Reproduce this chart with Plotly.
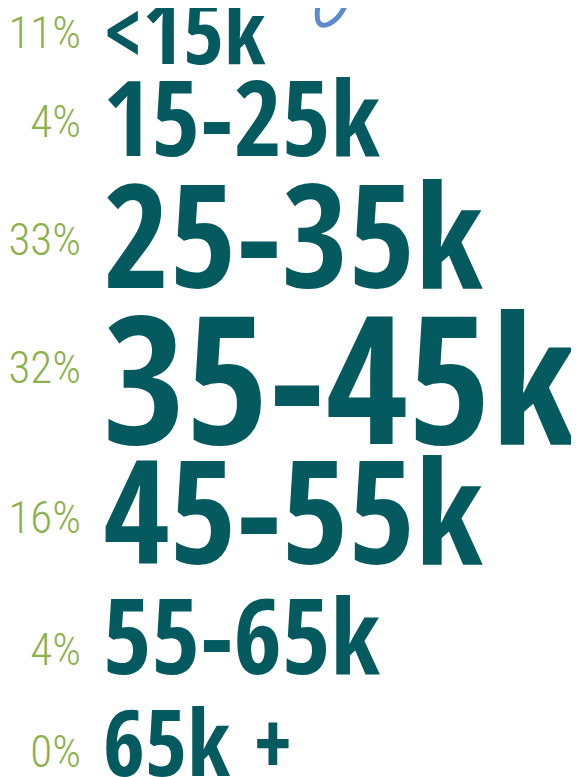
import plotly.graph_objects as go

# income brackets and share of respondents
brackets = ['<15k', '15-25k', '25-35k', '35-45k', '45-55k', '55-65k', '65k +']
shares = [11, 4, 33, 32, 16, 4, 0]

# word-cloud style layout (pixel positions / font sizes)
label_sizes = [88, 105, 144, 179, 144, 105, 91]
label_y = [34, 122, 244, 391, 520, 640, 745]
pct_y = [29, 118, 236, 364, 514, 646, 748]
label_x = 95
pct_x = 73

teal = '#055A5F'
green = '#8DB04F'

fig = go.Figure()

fig.add_trace(go.Scatter(
    x=[label_x] * len(brackets), y=label_y,
    mode='text', text=brackets, textposition='middle right',
    textfont=dict(family='Open Sans Condensed, Roboto Condensed, sans-serif',
                  size=label_sizes, color=teal, weight='bold'),
    hoverinfo='skip'))

fig.add_trace(go.Scatter(
    x=[pct_x] * len(shares), y=pct_y,
    mode='text', text=[f'{s}%' for s in shares], textposition='middle left',
    textfont=dict(family='Roboto Condensed, sans-serif',
                  size=45, color=green, weight=300),
    hoverinfo='skip'))

# blue doodle peeking in at the top
fig.add_shape(type='path', xref='x', yref='y',
              path='M 310 -2 Q 306 22 321 16 Q 331 11 337 -2',
              line=dict(color='#5B8BCB', width=5))

fig.update_xaxes(range=[0, 579], visible=False, fixedrange=True)
fig.update_yaxes(range=[777, 0], visible=False, fixedrange=True)
fig.update_layout(width=579, height=777, margin=dict(l=0, r=0, t=0, b=0),
                  plot_bgcolor='white', paper_bgcolor='white', showlegend=False)

fig.write_html('out.html')
